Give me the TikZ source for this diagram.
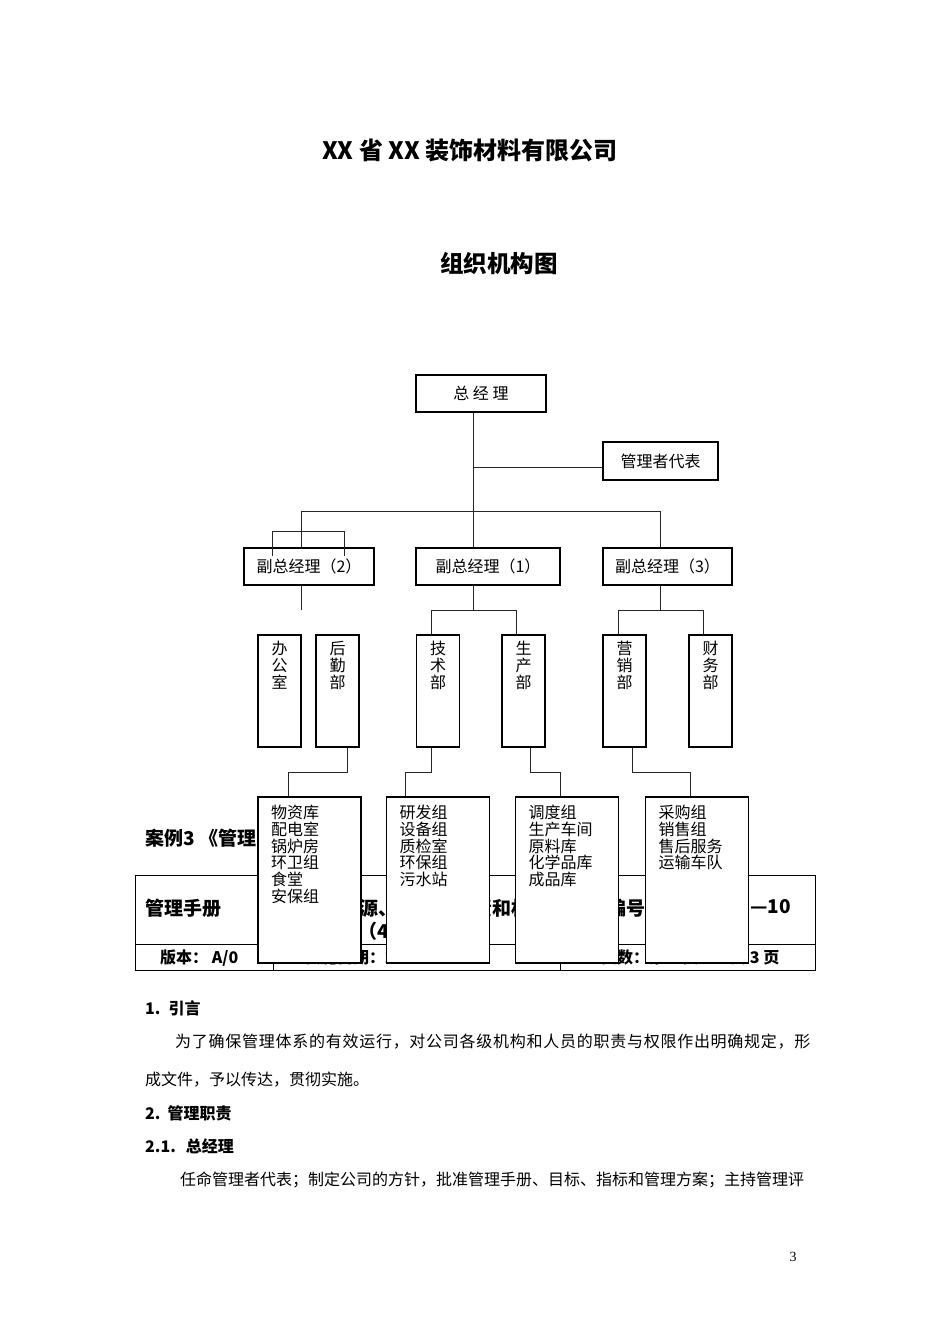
\documentclass[tikz,border=0pt]{standalone}
\usepackage{fontspec}
\setmainfont{Noto Sans CJK SC}
\newfontfamily\pagenofont{Liberation Serif}
\usetikzlibrary{calc}

\newcommand\vstack[1]{\parbox[t][100pt][t]{20pt}{\centering #1}}
\newcommand\grouplist[1]{\parbox[t][150pt][t]{77pt}{\raggedright #1}}
% from node, first bend, second bend, to node
\newcommand\feed[4]{%
  \draw[wire] (#2 |- #1.south) -- (#2) -- (#3) -- (#3 |- #4.north);}

\tikzset{
  every node/.style={inner sep=0pt},
  post/.style={draw, line width=1.2pt, fill=white, font=\fontsize{16}{17}\selectfont},
  leadbox/.style={post, minimum height=37pt},
  deptbox/.style={post, minimum width=43pt, minimum height=112pt},
  groupbox/.style={post, minimum width=103pt, minimum height=166pt,
    font=\fontsize{16}{16.8}\selectfont},
  wire/.style={line width=1pt, draw=black!85},
  rule/.style={line width=1pt},
  heading/.style={font=\bfseries\fontsize{24}{28}\selectfont},
  tabhead/.style={anchor=west, font=\bfseries\fontsize{19}{22}\selectfont},
  tabsmall/.style={anchor=west, font=\bfseries\fontsize{16}{19}\selectfont},
  bodyline/.style={anchor=west, font=\fontsize{16}{19}\selectfont},
  section/.style={anchor=west, font=\bfseries\fontsize{16}{19}\selectfont},
}

\begin{document}
\begin{tikzpicture}[x=1pt, y=-1pt]
\fill[white] (0,0) rectangle (950,1344);
\useasboundingbox (0,0) rectangle (950,1344);

% titles
\node[heading] (company) at (470,150) {XX 省 XX 装饰材料有限公司};
\node[heading, font=\bfseries\fontsize{23.5}{28}\selectfont] (chart) at (499,264) {组织机构图};

% table that the chart sits on
\draw[rule] (135,875) rectangle (815,970);
\draw[rule] (135,944) -- (815,944);
\draw[rule] (273,875) -- (273,970);
\draw[rule] (560,875) -- (560,970);
\draw[rule] (690,875) -- (690,944);
\node[tabhead] (case) at (145,838) {案例3 《管理};
\node[tabhead] (manual) at (145,908) {管理手册};
\node[tabhead] (scope) at (340,908) {资源、组织、职责和权限};
\node[tabhead] (scopeno) at (358,931) {（4.1）};
\node[tabhead] (code) at (607,908) {编号};
\node[tabhead, anchor=east] (codeno) at (791,908) {QMS—10};
\node[tabsmall] (version) at (160,958) {版本：\ A/0};
\node[tabsmall] (date) at (305,957) {实施日期：2010.01.01};
\node[tabsmall] (pages) at (601,957) {页数：第 1 页\qquad 共 3 页};

% boxes
\node[leadbox, minimum width=130pt] (zjl) at (481,393.5) {总~经~理};
\node[leadbox, minimum width=115pt, minimum height=38pt] (rep) at (660.5,461) {管理者代表};
\node[leadbox, minimum width=130pt] (fz2) at (309,566.5) {副总经理（2）};
\node[leadbox, minimum width=144pt] (fz1) at (488,566.5) {副总经理（1）};
\node[leadbox, minimum width=129pt] (fz3) at (667.5,566.5) {副总经理（3）};

\node[deptbox] (bgs) at (279.5,691) {\vstack{办\\公\\室}};
\node[deptbox] (hq) at (337.5,691) {\vstack{后\\勤\\部}};
\node[deptbox] (js) at (438,691) {\vstack{技\\术\\部}};
\node[deptbox] (sc) at (523.5,691) {\vstack{生\\产\\部}};
\node[deptbox] (yx) at (624.5,691) {\vstack{营\\销\\部}};
\node[deptbox] (cw) at (710.5,691) {\vstack{财\\务\\部}};

\node[groupbox] (wz) at (309.5,880) {\grouplist{物资库\\配电室\\锅炉房\\环卫组\\食堂\\安保组}};
\node[groupbox] (yf) at (438,880) {\grouplist{研发组\\设备组\\质检室\\环保组\\污水站}};
\node[groupbox] (dd) at (567,880) {\grouplist{调度组\\生产车间\\原料库\\化学品库\\成品库}};
\node[groupbox] (cg) at (697,880) {\grouplist{采购组\\销售组\\售后服务\\运输车队}};

% connectors
\coordinate (trunk) at (473.5,511);
\coordinate (bus2) at (301,511);
\coordinate (bus3) at (660,511);
\coordinate (repin) at ($(rep.west)+(0,6.5)$);
\draw[wire] (trunk |- zjl.south) -- (trunk |- fz1.north);
\draw[wire] (repin) -- (trunk |- repin);
\draw[wire] (bus2 |- fz2.north) -- (bus2) -- (bus3) -- (bus3 |- fz3.north);

\coordinate (bk1) at (272.5,531);
\coordinate (bk2) at (344.5,531);
\draw[wire] ($(bk1 |- fz2.north)+(0,9)$) -- (bk1) -- (bk2) -- ($(bk2 |- fz2.north)+(0,9)$);
\coordinate (stub) at (301,610);
\draw[wire] (stub |- fz2.south) -- (stub);

\coordinate (js1) at (431,610);
\coordinate (sc1) at (516,610);
\draw[wire] (trunk |- fz1.south) -- (trunk |- js1);
\draw[wire] (js1 |- js.north) -- (js1) -- (sc1) -- (sc1 |- sc.north);
\coordinate (yx1) at (618,610);
\coordinate (cw1) at (703,610);
\draw[wire] (bus3 |- fz3.south) -- (bus3 |- yx1);
\draw[wire] (yx1 |- yx.north) -- (yx1) -- (cw1) -- (cw1 |- cw.north);

\coordinate (hq2) at (347,772);
\coordinate (wz2) at (288,772);
\feed{hq}{hq2}{wz2}{wz}
\coordinate (js2) at (431,772);
\coordinate (yf2) at (405,772);
\feed{js}{js2}{yf2}{yf}
\coordinate (sc2) at (530,772);
\coordinate (dd2) at (560,772);
\feed{sc}{sc2}{dd2}{dd}
\coordinate (yx2) at (632,772);
\coordinate (cg2) at (690,772);
\feed{yx}{yx2}{cg2}{cg}

% text below
\node[section] (intro) at (145,1008) {1.\hspace{8pt}引言};
\node[bodyline, font=\fontsize{16}{19}\selectfont\addfontfeature{LetterSpace=4.6}] (para1) at (175,1042)
  {为了确保管理体系的有效运行，对公司各级机构和人员的职责与权限作出明确规定，形};
\node[bodyline] (para2) at (145,1080) {成文件，予以传达，贯彻实施。};
\node[section] (duty) at (145,1113) {2.\hspace{7pt}管理职责};
\node[section] (gm) at (145,1146) {2.1.\hspace{10pt}总经理};
\node[bodyline] (para3) at (180,1180)
  {任命管理者代表；制定公司的方针，批准管理手册、目标、指标和管理方案；主持管理评};
\node[font=\pagenofont\fontsize{14}{16}\selectfont] (pageno) at (793,1257) {3};
\end{tikzpicture}
\end{document}
